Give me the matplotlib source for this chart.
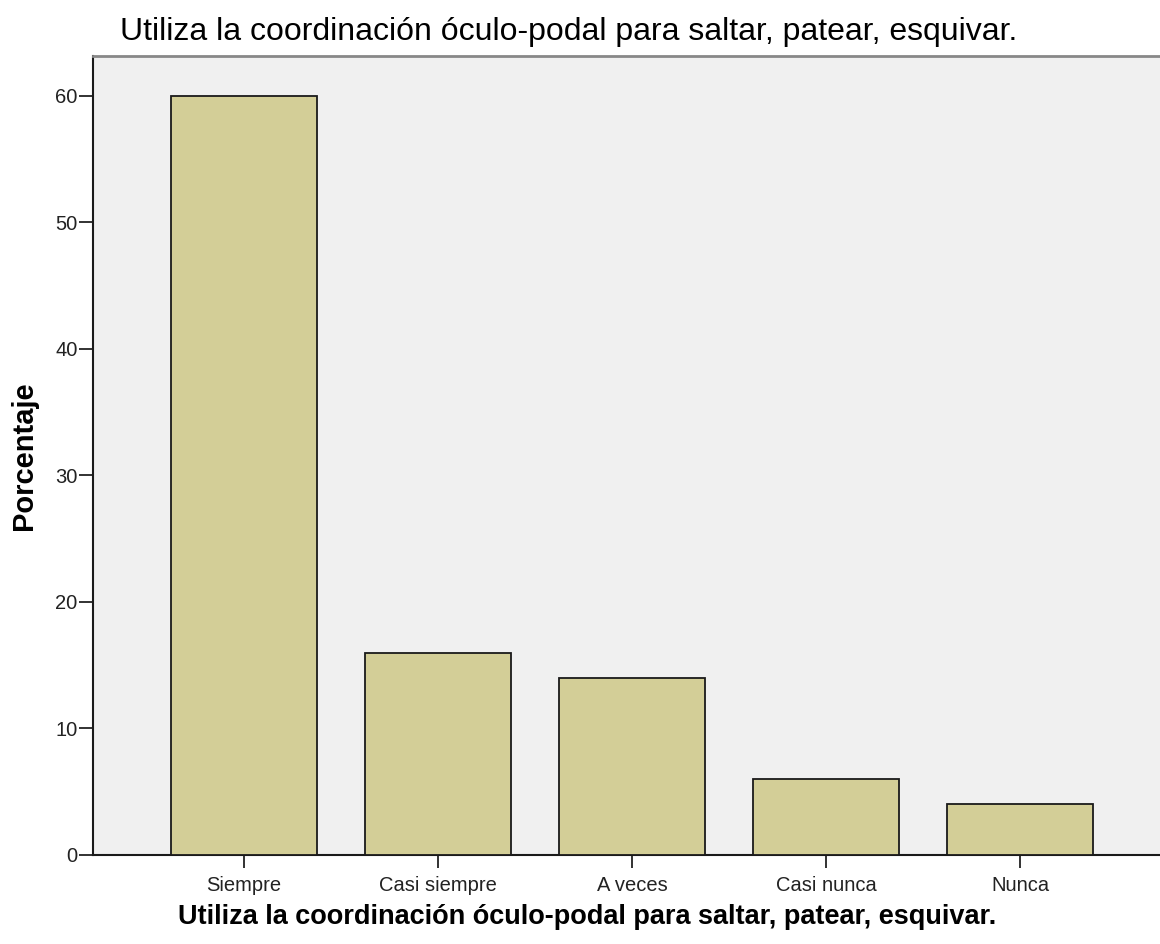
import matplotlib
matplotlib.use("Agg")
import matplotlib.pyplot as plt

categories = ["Siempre", "Casi siempre", "A veces", "Casi nunca", "Nunca"]
values = [60, 16, 14, 6, 4]
yticks = [0, 10, 20, 30, 40, 50, 60]
title = "Utiliza la coordinación óculo-podal para saltar, patear, esquivar."
xlabel = "Utiliza la coordinación óculo-podal para saltar, patear, esquivar."
ylabel = "Porcentaje"

plt.rcParams['font.family'] = ['Liberation Sans', 'DejaVu Sans']

W, H = 1160, 944
fig = plt.figure(figsize=(W / 100, H / 100), dpi=100)
left, right, top, bottom = 93, 1171, 56, 855
ax = fig.add_axes([left / W, 1 - bottom / H, (right - left) / W, (bottom - top) / H])
ax.set_facecolor("#f0f0f0")

x = list(range(len(categories)))
ax.bar(x, values, width=0.7526, color="#d3ce97", edgecolor="#1a1a1a", linewidth=1.3, zorder=3)

ax.set_xlim(-0.778, len(categories) - 1 + 0.778)
ax.set_ylim(0, 63.16)
ax.set_yticks(yticks)
ax.set_xticks(x)
ax.set_xticklabels(categories, fontsize=14.5)
ax.tick_params(axis="y", labelsize=14.5, length=10, width=1.3, direction="out", pad=1, colors="#222222")
ax.tick_params(axis="x", length=9.5, width=1.3, direction="out", pad=5.5, colors="#222222")

for s in ["left", "bottom"]:
    ax.spines[s].set_color("#1a1a1a")
    ax.spines[s].set_linewidth(1.5)
ax.spines["top"].set_color("#888888")
ax.spines["top"].set_linewidth(2)
ax.spines["right"].set_visible(False)

fig.text(120 / W, 1 - 32 / H, title, fontsize=23, ha="left", va="center", color="#000000")
fig.text(587 / W, 1 - 917 / H, xlabel, fontsize=19.5, fontweight="bold", ha="center", va="center")
fig.text(24 / W, 1 - 456 / H, ylabel, fontsize=21, fontweight="bold", ha="center", va="center", rotation=90)

fig.savefig("out.png", dpi=100)
